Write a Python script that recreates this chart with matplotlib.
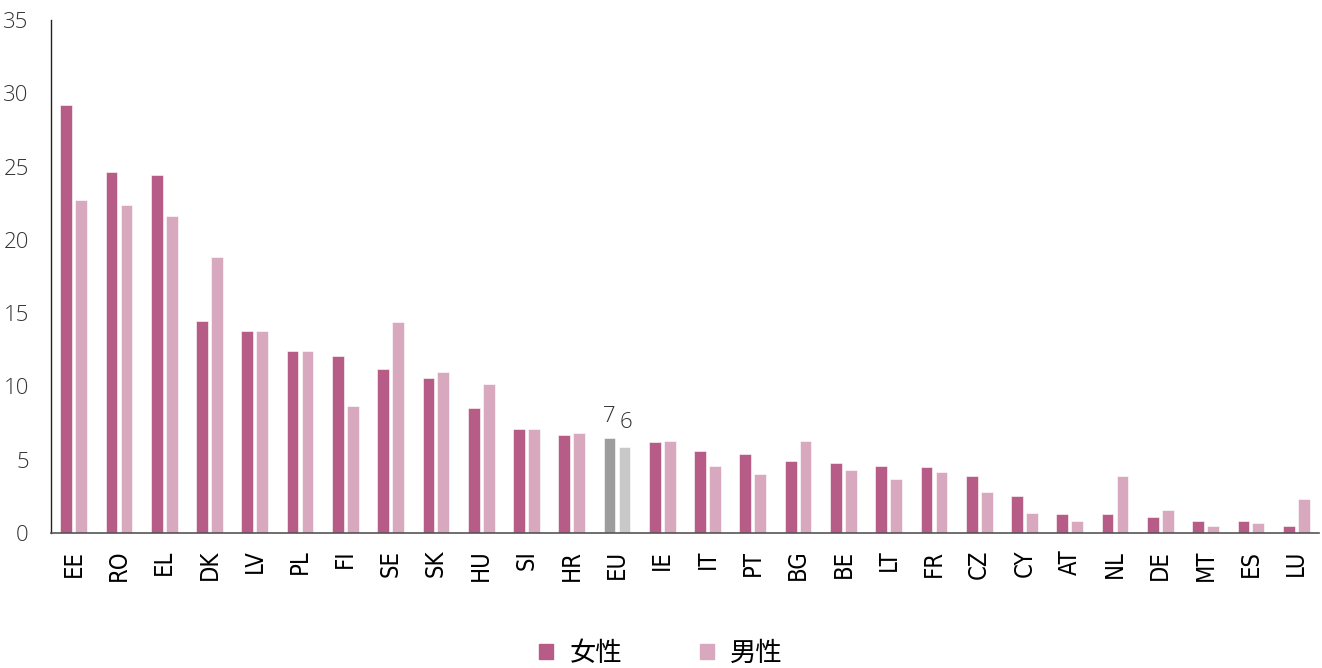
import matplotlib
matplotlib.use("Agg")
import matplotlib.pyplot as plt
import numpy as np
from matplotlib.patches import Patch

countries = ["EE", "RO", "EL", "DK", "LV", "PL", "FI", "SE", "SK", "HU", "SI", "HR", "EU", "IE",
             "IT", "PT", "BG", "BE", "LT", "FR", "CZ", "CY", "AT", "NL", "DE", "MT", "ES", "LU"]
women = [29.2, 24.6, 24.4, 14.5, 13.8, 12.4, 12.1, 11.2, 10.6, 8.5, 7.1, 6.7, 6.5, 6.2,
         5.6, 5.4, 4.9, 4.8, 4.6, 4.5, 3.9, 2.5, 1.3, 1.3, 1.1, 0.8, 0.8, 0.5]
men = [22.7, 22.4, 21.6, 18.8, 13.8, 12.4, 8.7, 14.4, 11.0, 10.2, 7.1, 6.8, 5.9, 6.3,
       4.6, 4.0, 6.3, 4.3, 3.7, 4.2, 2.8, 1.4, 0.8, 3.9, 1.6, 0.5, 0.7, 2.3]
eu_labels = ["7", "6"]
legend_labels = ["女性", "男性"]

c_women = "#b75c87"
c_men = "#d8a9be"
c_eu_women = "#9d9d9d"
c_eu_men = "#c8c8c8"

fig = plt.figure(figsize=(13.22, 6.68), dpi=100)
ax = fig.add_axes([0.0386, 0.202, 0.959, 0.768])

x = np.arange(len(countries))
w = 0.26
off = 0.165
eu = countries.index("EU")
col_w = [c_eu_women if i == eu else c_women for i in x]
col_m = [c_eu_men if i == eu else c_men for i in x]
ax.bar(x - off, women, w, color=col_w, edgecolor="white", linewidth=0.4)
ax.bar(x + off, men, w, color=col_m, edgecolor="white", linewidth=0.4)

# EU values written above the grey bars
num_font = dict(family=["Open Sans", "DejaVu Sans"], fontweight="light")
ax.text(eu - off, women[eu] + 1.1, eu_labels[0], ha="center", va="baseline",
        fontsize=16, color="#333333", **num_font)
ax.text(eu + off + 0.03, men[eu] + 1.3, eu_labels[1], ha="center", va="baseline",
        fontsize=16, color="#333333", **num_font)

ax.set_xlim(-0.5, 27.5)
ax.set_ylim(0, 35)
ax.set_yticks(np.arange(0, 36, 5))
ax.set_xticks(x)
ax.set_xticklabels(countries, rotation=90, fontsize=17, family="DejaVu Sans",
                   fontstretch="condensed", color="black")
for lbl in ax.get_yticklabels():
    lbl.set_fontfamily(["Open Sans", "DejaVu Sans"])
    lbl.set_fontweight("light")
    lbl.set_fontsize(16)
    lbl.set_color("#333333")
ax.tick_params(axis="y", length=0, pad=16)
ax.tick_params(axis="x", length=0, pad=12)

for s in ["top", "right"]:
    ax.spines[s].set_visible(False)
ax.spines["left"].set_color("#222222")
ax.spines["left"].set_linewidth(1.0)
ax.spines["bottom"].set_color("#555555")
ax.spines["bottom"].set_linewidth(1.2)

handles = [Patch(color=c_women), Patch(color=c_men)]
fig.legend(handles, legend_labels, loc="center", bbox_to_anchor=(0.5, 0.022), ncol=2,
           frameon=False, handlelength=0.55, handleheight=0.55, handletextpad=0.6,
           columnspacing=2.95, prop=dict(family=["Noto Sans CJK SC", "DejaVu Sans"],
                                         size=19, weight="light"))

fig.savefig("out.png", dpi=100)
